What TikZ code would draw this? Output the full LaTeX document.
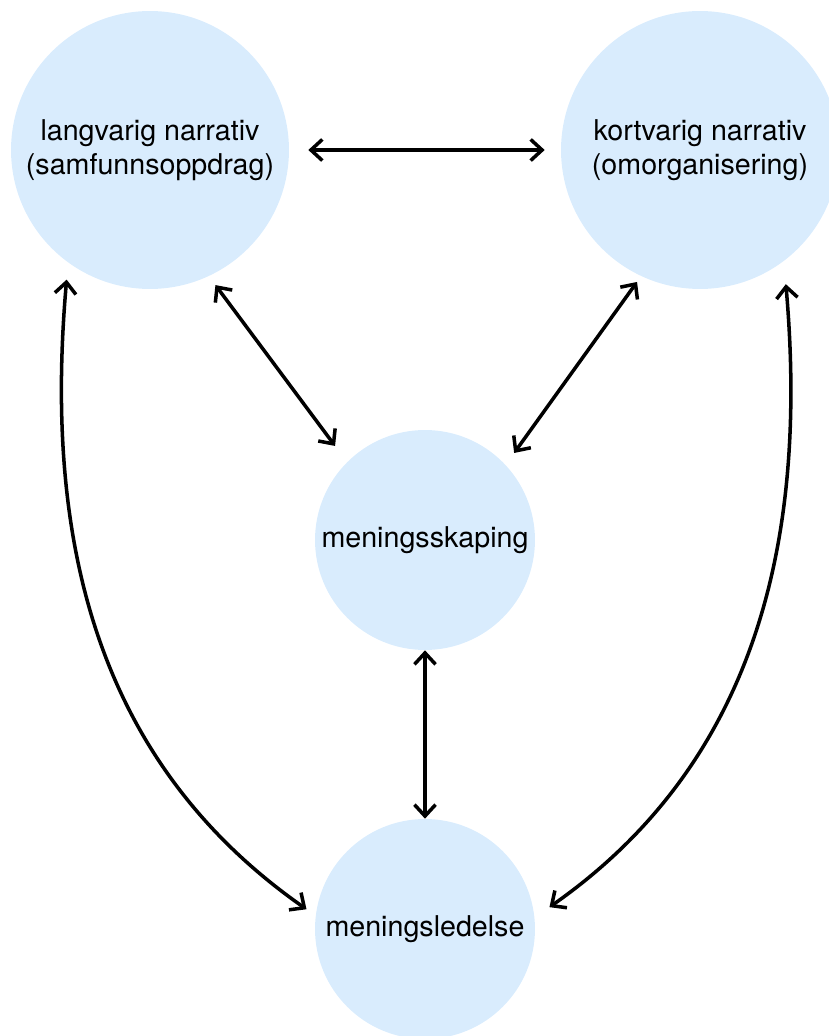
\documentclass[tikz,border=0pt]{standalone}
\usepackage{fontspec}
\setmainfont{TeX Gyre Heros}
\usetikzlibrary{arrows.meta}
\definecolor{bubblefill}{HTML}{D9ECFD}
\begin{document}
\begin{tikzpicture}[x=0.02cm, y=0.02cm,
    bubble/.style={circle, fill=bubblefill, inner sep=0pt, align=center,
        font=\fontsize{16.3}{19.3}\selectfont},
    big/.style={bubble, minimum size=5.56cm},
    small/.style={bubble, minimum size=4.4cm},
    link/.style={line width=2pt,
        {Straight Barb[length=6.5pt,width=12pt]}-{Straight Barb[length=6.5pt,width=12pt]}}]
    \useasboundingbox (0,0) rectangle (829,1036);
    \node[big] (long) at (150,886) {langvarig narrativ\\(samfunnsoppdrag)};
    \node[big] (short) at (700,886) {kortvarig narrativ\\(omorganisering)};
    \node[small] (sense) at (425,496) {meningsskaping};
    \node[small] (lead) at (425,107) {meningsledelse};
    \draw[link, shorten <=0.38cm, shorten >=0.32cm] (long.east) -- (short.west);
    \draw[link, shorten <=0.22cm, shorten >=0.40cm] (long.-65.6) -- (sense.135);
    \draw[link, shorten <=0.14cm, shorten >=0.29cm] (short.-115.5) -- (sense.43);
    \draw[link] (sense.south) -- (lead.north);
    \draw[link, shorten <=0.34cm, shorten >=0.22cm] (long.234) to[out=265, in=145] (lead.173);
    \draw[link, shorten <=0.46cm, shorten >=0.36cm] (short.307) to[out=275, in=35] (lead.6);
\end{tikzpicture}
\end{document}
